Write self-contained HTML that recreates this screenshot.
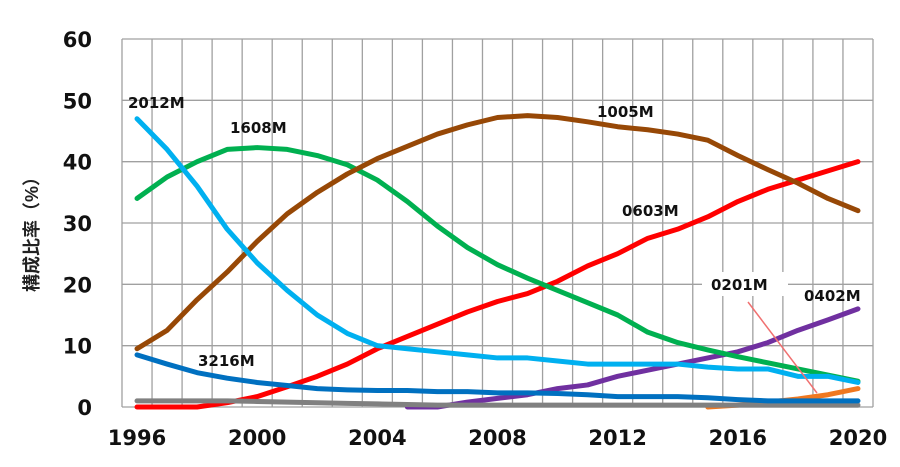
<!DOCTYPE html>
<html><head><meta charset="utf-8"><style>
html,body{margin:0;padding:0;background:#fff;width:900px;height:467px;overflow:hidden}
svg text{font-family:"DejaVu Sans","Liberation Sans",sans-serif}
</style></head><body>
<svg id="s" width="900" height="467" xmlns="http://www.w3.org/2000/svg"></svg>
<script>
const s=document.getElementById('s');
const L=122,R=873,T=39,B=407,cw=(R-L)/25;
const X=i=>L+cw*(i+0.5), Y=v=>B-v*(B-T)/60;
let h='';
for(let k=0;k<=6;k++){const y=Y(k*10);h+=`<line x1="${L}" x2="${R}" y1="${y}" y2="${y}" stroke="#a0a0a0" stroke-width="1.3"/>`;
h+=`<text x="92" y="${y+8}" font-size="21" font-weight="bold" text-anchor="end" fill="#111">${k*10}</text>`;}
for(let k=0;k<=25;k++){const x=L+cw*k;h+=`<line x1="${x}" x2="${x}" y1="${T}" y2="${B}" stroke="#a0a0a0" stroke-width="1.3"/>`;}
for(let k=0;k<=6;k++){h+=`<text x="${X(k*4)}" y="445" font-size="21" font-weight="bold" text-anchor="middle" fill="#111">${1996+k*4}</text>`;}
h+=`<text transform="translate(38,230) rotate(-90)" font-size="18" font-weight="bold" text-anchor="middle" fill="#222" style='font-family:"Liberation Sans","Noto Sans CJK JP",sans-serif'>構成比率（%）</text>`;
const N=null;
const S=[
['#F07820',[N,N,N,N,N,N,N,N,N,N,N,N,N,N,N,N,N,N,N,0,0.3,0.8,1.3,2,3]],
['#7030A0',[N,N,N,N,N,N,N,N,N,0,0,0.8,1.4,2,3,3.6,5,6,7,8,9,10.5,12.5,14.2,16]],
['#ff0000',[0,0,0,0.7,1.7,3.3,5,7,9.5,11.5,13.5,15.5,17.2,18.5,20.5,23,25,27.5,29,31,33.5,35.5,37,38.5,40]],
['#808080',[1,1,1,1,0.9,0.8,0.7,0.6,0.5,0.4,0.3,0.3,0.3,0.3,0.3,0.3,0.3,0.3,0.3,0.3,0.3,0.3,0.3,0.3,0.3]],
['#0070C0',[8.5,7,5.6,4.7,4,3.5,3,2.8,2.7,2.7,2.5,2.5,2.3,2.3,2.2,2,1.7,1.7,1.7,1.5,1.2,1,1,1,1]],
['#00B050',[34,37.5,40,42,42.3,42,41,39.5,37,33.5,29.5,26,23.2,21,19,17,15,12.2,10.5,9.3,8.2,7.2,6.2,5.2,4.2]],
['#974806',[9.5,12.5,17.5,22,27,31.5,35,38,40.5,42.5,44.5,46,47.2,47.5,47.2,46.5,45.7,45.2,44.5,43.5,41,38.7,36.5,34,32]],
['#00B0F0',[47,42,36,29,23.5,19,15,12,10,9.5,9,8.5,8,8,7.5,7,7,7,7,6.5,6.2,6.2,5,5,4]]
];
for(const [c,d] of S){const p=[];d.forEach((v,i)=>{if(v!==null)p.push(X(i)+','+Y(v));});
h+=`<polyline fill="none" stroke="${c}" stroke-width="5" stroke-linejoin="round" stroke-linecap="round" points="${p.join(' ')}"/>`;}
const lab=(t,x,y)=>h+=`<text x="${x}" y="${y}" font-size="15" font-weight="bold" fill="#111">${t}</text>`;
lab('2012M',128,108);lab('1608M',230,133);lab('1005M',597,117);lab('0603M',622,216);lab('3216M',198,366);lab('0402M',804,301);
h+=`<rect x="702" y="272" width="86" height="24" fill="#fff"/>`;lab('0201M',711,290);
h+=`<line x1="748" y1="302" x2="817" y2="393" stroke="#f07070" stroke-width="1.5"/>`;
s.innerHTML=h;
</script>
</body></html>
